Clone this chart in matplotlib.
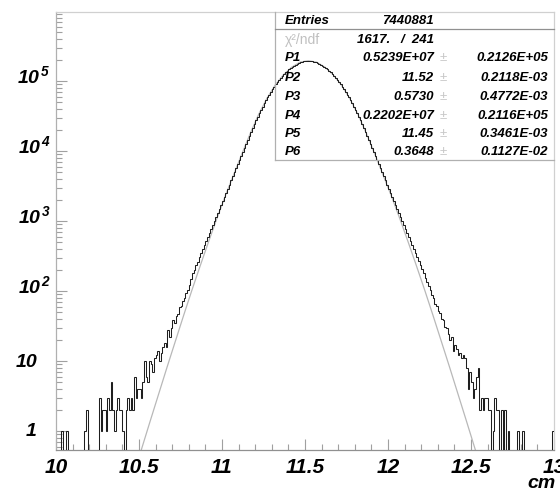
import numpy as np
import matplotlib
matplotlib.use("Agg")
import matplotlib.pyplot as plt
from matplotlib.ticker import NullFormatter, LogLocator
from matplotlib.transforms import offset_copy

plt.rcParams["font.family"] = ["Liberation Sans", "DejaVu Sans"]
plt.rcParams["mathtext.fontset"] = "custom"
plt.rcParams["mathtext.rm"] = "Liberation Sans:bold:italic"
plt.rcParams["mathtext.it"] = "Liberation Sans:bold:italic"
plt.rcParams["mathtext.bf"] = "Liberation Sans:bold:italic"

# histogram: 300 bins of 0.01 cm between 10 and 13 cm
x_lo, x_hi, n_bins = 10.0, 13.0, 300
counts = [
    0, 0, 0, 1, 0, 0, 1, 0, 0, 0, 0, 0, 0, 0, 0, 0, 0, 1, 2, 0,
    0, 0, 0, 0, 0, 0, 3, 1, 2, 2, 1, 3, 2, 5, 2, 1, 2, 3, 2, 2,
    1, 0, 2, 3, 2, 3, 2, 6, 3, 4, 4, 3, 5, 10, 6, 5, 10, 9, 7, 11,
    12, 14, 10, 13, 16, 18, 16, 28, 22, 30, 38, 35, 44, 47, 60, 62, 73, 80, 95, 105,
    122, 150, 181, 199, 238, 262, 309, 353, 402, 457, 520, 592, 673, 766, 871, 991,
    1127, 1285, 1469, 1679, 1919, 2193, 2512, 2884, 3311, 3802, 4365, 5000, 5715, 6531, 7464, 8531,
    9750, 11143, 12735, 14555, 16634, 18923, 21429, 24266, 27479, 31117, 34914, 38815, 43152, 47973,
    53333, 58749, 64121, 69984, 76384, 83368, 90157, 96605, 103514, 110917, 118850, 126183, 132739,
    139637, 146893, 154525, 161065, 166341, 171791, 177419, 183231, 187068, 188799, 190546, 192309,
    194089, 194089, 192309, 190546, 188799, 187068, 183231, 177419, 171791, 166341, 161065, 154525,
    146893, 139637, 132739, 126183, 118850, 110917, 103514, 96605, 90157, 83368, 76384, 69984, 64121,
    58749, 53333, 47973, 43152, 38815, 34914, 31117, 27479, 24266, 21429, 18923, 16634, 14555, 12735,
    11143, 9750, 8531, 7464, 6531, 5715, 5000, 4365, 3802, 3311, 2884, 2512, 2193, 1919, 1679, 1469,
    1285, 1127, 991, 871, 766, 673, 592, 520, 457, 402, 353, 309, 269, 234, 204, 178, 155, 135, 117,
    102, 89, 80, 66, 62, 51, 48, 40, 38, 31, 30,
    24, 20, 22, 14, 17, 15, 12, 13, 11, 12, 11, 8, 4, 7, 5, 3, 4, 6, 8, 2,
    3, 2, 3, 3, 2, 2, 0, 1, 3, 2, 2, 0, 2, 0, 2, 0, 1, 0, 0, 0,
    0, 0, 1, 0, 0, 1, 0, 0, 0, 0, 0, 0, 0, 0, 0, 0, 0, 0, 0, 0,
    0, 0, 0, 1,
]

# fitted double gaussian, sampled from the drawn grey curve
fit_x = [10.47, 10.52, 10.57, 10.62, 10.67, 10.72, 10.77, 10.82, 10.87, 10.92, 10.97,
         11.02, 11.07, 11.12, 11.17, 11.22, 11.27, 11.32, 11.37, 11.42, 11.47, 11.52,
         11.57, 11.62, 11.67, 11.72, 11.77, 11.82, 11.87, 11.92, 11.97, 12.02, 12.07,
         12.12, 12.17, 12.22, 12.27, 12.32, 12.37, 12.42, 12.47, 12.52, 12.57]
fit_y = [0.245, 0.60, 1.45, 3.47, 8.3, 19.5, 45.7, 105, 234, 513, 1100,
         2290, 4570, 9120, 17800, 33100, 56200, 87100, 123000, 158000, 186000, 195000,
         186000, 158000, 123000, 87100, 56200, 33100, 17800, 9120, 4570, 2290, 1100,
         513, 234, 105, 45.7, 19.5, 8.3, 3.47, 1.45, 0.60, 0.245]

x_ticks = [10, 10.5, 11, 11.5, 12, 12.5, 13]
x_labels = ["10", "10.5", "11", "11.5", "12", "12.5", "13"]
y_ticks = [1, 10, 100, 1e3, 1e4, 1e5]
y_labels = ["1", "10", "$10^{\\,2}$", "$10^{\\,3}$", "$10^{\\,4}$", "$10^{\\,5}$"]

stat_names = ["P1", "P2", "P3", "P4", "P5", "P6"]
stat_values = ["0.5239E+07", "11.52", "0.5730", "0.2202E+07", "11.45", "0.3648"]
stat_errors = ["0.2126E+05", "0.2118E-03", "0.4772E-03", "0.2116E+05", "0.3461E-03", "0.1127E-02"]
entries = "7440881"
chi2_text = "1617.   /  241"

W, H = 560, 492
fig = plt.figure(figsize=(W / 100, H / 100), dpi=100)
ax = fig.add_axes([56 / W, 42 / H, 498 / W, 438 / H])
ax.set_yscale("log")

edges = np.linspace(x_lo, x_hi, n_bins + 1)
c = np.array(counts, dtype=float)
ax.stairs(np.where(c > 0, c, 1e-3), edges, baseline=None, color="#1e1e1e", lw=0.75, zorder=3)
ax.plot(fit_x, fit_y, color="#b8b8b8", lw=0.9, zorder=2)

ax.set_xlim(x_lo, x_hi)
ax.set_ylim(0.535, 9.7e5)

ax.set_xticks(x_ticks)
ax.set_xticklabels(x_labels)
ax.set_xticks(np.arange(10, 13.001, 0.1), minor=True)
ax.set_yticks(y_ticks)
ax.set_yticklabels([])
ax.yaxis.set_minor_locator(LogLocator(base=10, subs=np.arange(2, 10)))
ax.yaxis.set_minor_formatter(NullFormatter())

ax.tick_params(which="both", direction="in", color="#a0a0a0", width=0.8,
               labelsize=15, labelcolor="black")
ax.tick_params(which="major", length=8)
ax.tick_params(which="minor", length=4)
ax.tick_params(axis="x", pad=6)
for lab in ax.get_xticklabels():
    lab.set_fontweight("bold")
    lab.set_fontstyle("italic")

# y labels drawn by hand: plain ones aligned on the "10" of the powers
for v, lab in zip(y_ticks, y_labels):
    if lab.startswith("$"):
        tr = offset_copy(ax.get_yaxis_transform(), fig=fig, x=-5, y=5, units="dots")
    else:
        tr = offset_copy(ax.get_yaxis_transform(), fig=fig, x=-19, y=-1, units="dots")
    ax.text(0, v, lab, transform=tr, ha="right", va="center", fontsize=14,
            fontweight="bold", fontstyle="italic", clip_on=False)

for side in ["top", "right"]:
    ax.spines[side].set_color("#d0d0d0")
ax.spines["left"].set_color("#b0b0b0")
ax.spines["bottom"].set_color("#909090")
for s in ax.spines.values():
    s.set_linewidth(0.9)


def fx(px):
    return px / W


def fy(py):
    return 1 - py / H


# statistics box
box_l, box_t, box_r, box_b = 275, 12, 554, 160
fig.add_artist(plt.Line2D([fx(box_l), fx(box_l)], [fy(box_t), fy(box_b)],
                          color="#b0b0b0", lw=0.9))
fig.add_artist(plt.Line2D([fx(box_l), fx(box_r)], [fy(box_b), fy(box_b)],
                          color="#b0b0b0", lw=0.9))
fig.add_artist(plt.Line2D([fx(box_l), fx(box_r)], [fy(29), fy(29)],
                          color="#909090", lw=0.9))

bold = dict(fontsize=9.5, fontweight="bold", fontstyle="italic", va="center", color="black")
fig.text(fx(285), fy(21), "Entries", ha="left", **bold)
fig.text(fx(434), fy(21), entries, ha="right", **bold)
fig.text(fx(285), fy(40), "χ²/ndf", ha="left", va="center", fontsize=10, color="#c0c0c0")
fig.text(fx(434), fy(40), chi2_text, ha="right", **bold)
row_y = [58, 78, 97, 116, 134, 152]
for name, val, err, yy in zip(stat_names, stat_values, stat_errors, row_y):
    fig.text(fx(285), fy(yy), name, ha="left", **bold)
    fig.text(fx(434), fy(yy), val, ha="right", **bold)
    fig.text(fx(443), fy(yy), "±", ha="center", va="center", fontsize=9.5, color="#c8c8c8")
    fig.text(fx(548), fy(yy), err, ha="right", **bold)

fig.text(fx(556), fy(484), "cm", ha="right", va="center", fontsize=14,
         fontweight="bold", fontstyle="italic")

fig.savefig("out.png", dpi=100)
